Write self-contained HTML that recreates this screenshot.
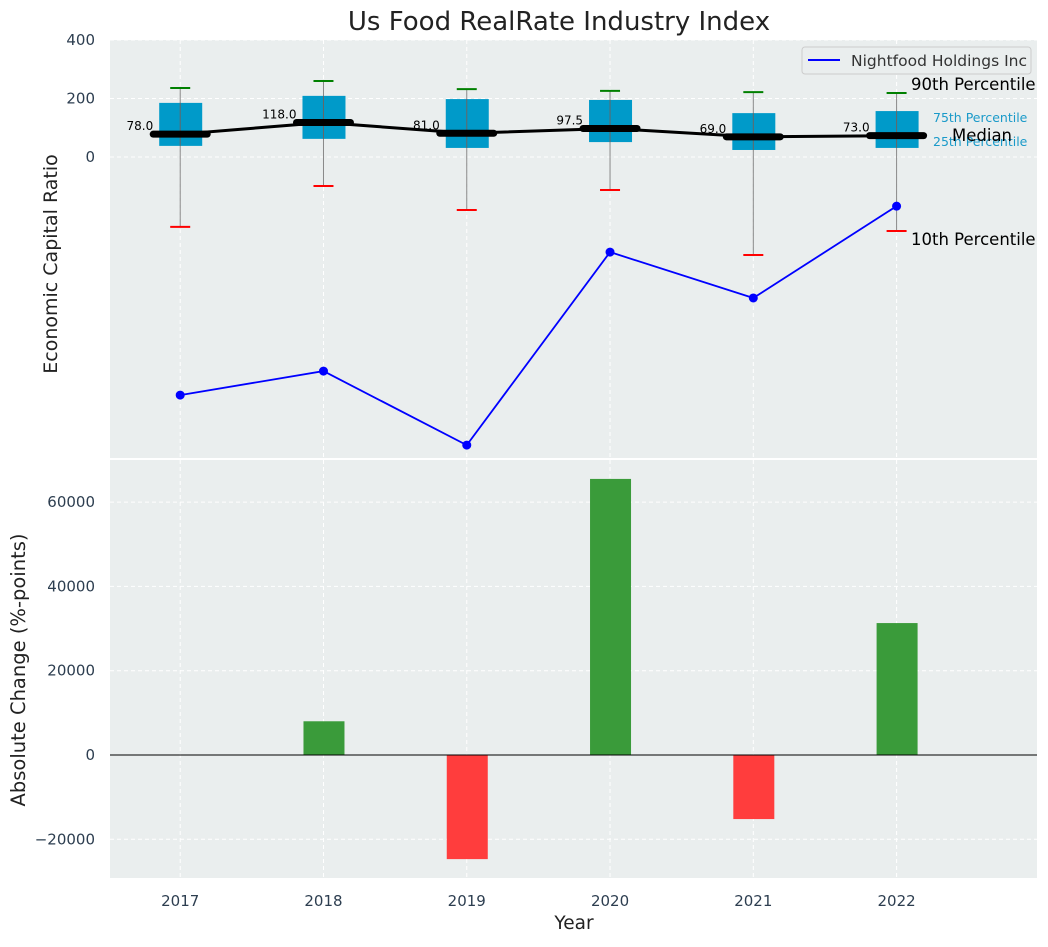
<!DOCTYPE html>
<html><head><meta charset="utf-8"><style>
body{margin:0;background:#fff;font-family:"Liberation Sans","DejaVu Sans",sans-serif}
svg text{font-family:"DejaVu Sans","Liberation Sans",sans-serif}
</style></head><body>
<svg id="c" width="1048" height="942" xmlns="http://www.w3.org/2000/svg"></svg>
<script>
const years=[2017,2018,2019,2020,2021,2022];
const medians=[78,118,81,97.5,69,73];
const q1=[38,62,31,51,24,31];
const q3=[185,209,198,195,150,157];
const p90=[236,260,232,226,222,219];
const p10=[-239,-99,-181,-113,-335,-253];
const company=[-814,-732,-985,-325,-482,-168];
const changes=[0,8000,-24700,65500,-15200,31300];
const topTicks=[0,200,400];
const botTicks=[-20000,0,20000,40000,60000];
const NS="http://www.w3.org/2000/svg";
const svg=document.getElementById('c');
function el(t,a,p){const e=document.createElementNS(NS,t);for(const k in a)e.setAttribute(k,a[k]);(p||svg).appendChild(e);return e;}
function tx(x,y,s,a,p){const e=el('text',Object.assign({x:x,y:y},a),p);e.textContent=s;return e;}
const L=110,R=1037;
const X=v=>L+(v-2016.51)/(2022.98-2016.51)*(R-L);
const Y1=v=>157-v*(58.5/200);
const Y2=v=>755-v*(84.3/20000);
let e=el('rect',{x:L,y:40,width:R-L,height:418,fill:'#eaeeee'});

e=el('rect',{x:L,y:460,width:R-L,height:418,fill:'#eaeeee'});

years.forEach(y=>{el('line',{x1:X(y),x2:X(y),y1:40,y2:458,stroke:'#fff','stroke-dasharray':'4,3','stroke-width':1});el('line',{x1:X(y),x2:X(y),y1:460,y2:878,stroke:'#fff','stroke-dasharray':'4,3','stroke-width':1});});
topTicks.forEach(t=>{el('line',{x1:L,x2:R,y1:Y1(t),y2:Y1(t),stroke:'#fff','stroke-dasharray':'4,3'});
 e=tx(95,Y1(t)+5,t,{'text-anchor':'end','font-size':15,fill:'#2d3e50'});});
botTicks.forEach(t=>{el('line',{x1:L,x2:R,y1:Y2(t),y2:Y2(t),stroke:'#fff','stroke-dasharray':'4,3'});
 e=tx(95,Y2(t)+5,t<0?'\u2212'+(-t):t,{'text-anchor':'end','font-size':15,fill:'#2d3e50'});});
years.forEach(y=>{e=tx(X(y),906,y,{'text-anchor':'middle','font-size':15,fill:'#2d3e50'});});
years.forEach((y,i)=>{
 const x=X(y);
 el('line',{x1:x,x2:x,y1:Y1(p90[i]),y2:Y1(p10[i]),stroke:'#888','stroke-width':1});
 e=el('rect',{x:x-21,y:Y1(q3[i]),width:43,height:Y1(q1[i])-Y1(q3[i]),fill:'#009ac9'});
 
 el('line',{x1:x,x2:x,y1:Y1(q3[i]),y2:Y1(q1[i]),stroke:'#666','stroke-width':1});
 el('line',{x1:x-10,x2:x+10,y1:Y1(p90[i]),y2:Y1(p90[i]),stroke:'green','stroke-width':2});
 el('line',{x1:x-10,x2:x+10,y1:Y1(p10[i]),y2:Y1(p10[i]),stroke:'red','stroke-width':2});
});
let pts=years.map((y,i)=>X(y)+','+Y1(medians[i])).join(' ');
e=el('polyline',{points:pts,fill:'none',stroke:'#000','stroke-width':3});

years.forEach((y,i)=>{const x=X(y);
 e=el('line',{x1:x-27,x2:x+27,y1:Y1(medians[i]),y2:Y1(medians[i]),stroke:'#000','stroke-width':7,'stroke-linecap':'round'});
 
 e=tx(x-27,Y1(medians[i])-4,medians[i].toFixed(1),{'text-anchor':'end','font-size':12,fill:'#000'});
 
});
pts=years.map((y,i)=>X(y)+','+Y1(company[i])).join(' ');
e=el('polyline',{points:pts,fill:'none',stroke:'#0000ff','stroke-width':1.8});

years.forEach((y,i)=>{e=el('circle',{cx:X(y),cy:Y1(company[i]),r:4.5,fill:'#0000ff'});});
e=tx(911,90,'90th Percentile',{'font-size':16.5,fill:'#000'});
e=tx(911,245,'10th Percentile',{'font-size':16.5,fill:'#000'});
e=tx(933,122,'75th Percentile',{'font-size':12.5,fill:'#1a9ac9'});
e=tx(933,146,'25th Percentile',{'font-size':12.5,fill:'#1a9ac9'});
e=tx(952,141,'Median',{'font-size':16.5,fill:'#000'});
e=el('g',{});
el('rect',{x:802,y:47,width:229,height:27,rx:3,fill:'#eaeeee',stroke:'#ccc'},e);
el('line',{x1:808,x2:840,y1:60,y2:60,stroke:'#0000ff','stroke-width':2},e);
tx(851,66,'Nightfood Holdings Inc',{'font-size':15.5,fill:'#333'},e);
years.forEach((y,i)=>{const v=changes[i];if(v===0)return;
 e=el('rect',{x:X(y)-20,y:Math.min(Y2(v),Y2(0)),width:41,height:Math.abs(Y2(v)-Y2(0)),fill:v>0?'#3a9b3a':'#ff3d3d'});
 });
el('line',{x1:L,x2:R,y1:Y2(0),y2:Y2(0),stroke:'#000','stroke-width':1});
e=tx(559,30,'Us Food RealRate Industry Index',{'text-anchor':'middle','font-size':26,fill:'#222'});
e=tx(57,264,'Economic Capital Ratio',{'text-anchor':'middle','font-size':19,fill:'#222',transform:'rotate(-90 57 264)'});
e=tx(25,670,'Absolute Change (%-points)',{'text-anchor':'middle','font-size':19.5,fill:'#222',transform:'rotate(-90 25 670)'});
e=tx(574,929,'Year',{'text-anchor':'middle','font-size':18.5,fill:'#222'});
</script>
</body></html>
